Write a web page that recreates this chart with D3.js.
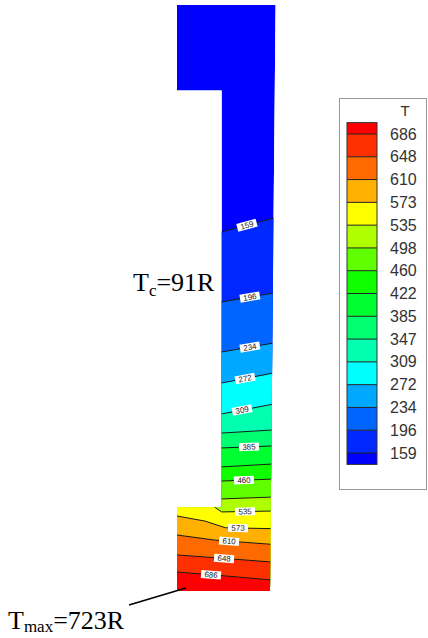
<!DOCTYPE html>
<html>
<head>
<meta charset="utf-8">
<script src="https://cdn.jsdelivr.net/npm/d3@7"></script>
<style>
  body { margin: 0; background: #fff; }
</style>
</head>
<body>
<div id="chart"></div>
<script>
// contour levels of T (R)
const levels = [159, 196, 234, 272, 309, 347, 385, 422, 460, 498, 535, 573, 610, 648, 686];

// band colours, from "below 159" up to "above 686"
const bandColors = [
  "#0000ff", "#0028ff", "#0064ff", "#00a8ff", "#00ffff", "#00ffb0", "#00ff70", "#00ff30",
  "#10ff00", "#60ff00", "#b0ff00", "#ffff00", "#ffb000", "#ff6a00", "#ff3000", "#ff0000"
];

// outline of the part, in mm (y up)
const outline = [[0, 0], [50, 0], [53, 315], [0, 315], [0, 269], [24, 269], [24, 45], [0, 45]];

// isotherms, one polyline per level (mm)
const isotherms = [
  [[24, 193], [52, 200.5]],
  [[24, 155.4], [52, 160.2]],
  [[24, 128.5], [52, 133.3]],
  [[24, 111.8], [52, 117.2]],
  [[24, 95.2], [52, 100.5]],
  [[24, 84.9], [52, 86.6]],
  [[24, 76.9], [52, 78]],
  [[24, 66.7], [52, 68.3]],
  [[24, 59.1], [52, 60.2]],
  [[24, 49.5], [52, 50.5]],
  [[19, 46], [24, 42.5], [52, 43]],
  [[0, 40.3], [15, 37.6], [26, 34], [52, 33.5]],
  [[0, 30.1], [20, 27.4], [52, 25]],
  [[0, 19.4], [23, 17.7], [52, 15.5]],
  [[0, 10.2], [26, 8.1], [52, 5.8]]
];

// where each isotherm carries its value label (mm along x), null = no label
const labelX = [37.6, 39.2, 39.2, 36.6, 35, null, 38.7, null, 36, null, 36.6, 32.8, 28, 25.3, 18.3];

const width = 428, height = 638;

const svg = d3.select("#chart")
  .append("svg")
  .attr("width", width)
  .attr("height", height);

// part coordinates -> page
const x = d3.scaleLinear().domain([0, 50]).range([177, 270]);
const y = d3.scaleLinear().domain([0, 315]).range([591, 5]);

const toPath = d3.line().x(d => x(d[0])).y(d => y(d[1]));

svg.append("clipPath")
  .attr("id", "part")
  .append("path")
  .attr("d", toPath(outline) + "Z");

const field = svg.append("g").attr("clip-path", "url(#part)");

// base colour (coldest band), then every band painted from its isotherm downwards
field.append("path")
  .attr("d", toPath(outline) + "Z")
  .attr("fill", bandColors[0]);

// lines run past both edges of the part
const extend = pts => [[-10, pts[0][1]], ...pts, [70, pts[pts.length - 1][1]]];

const below = d3.area()
  .x(d => x(d[0]))
  .y0(y(-10))
  .y1(d => y(d[1]));

isotherms.forEach((pts, i) => {
  field.append("path")
    .attr("d", below(extend(pts)))
    .attr("fill", bandColors[i + 1]);
});

isotherms.forEach(pts => {
  field.append("path")
    .attr("d", toPath(extend(pts)))
    .attr("fill", "none")
    .attr("stroke", "#1a1a1a")
    .attr("stroke-width", 1);
});

// value labels on the isotherms
function pointOn(pts, px) {
  const p = extend(pts);
  for (let k = 0; k < p.length - 1; k++) {
    if (px >= p[k][0] && px <= p[k + 1][0]) {
      const t = (px - p[k][0]) / (p[k + 1][0] - p[k][0]);
      const sx = x(p[k + 1][0]) - x(p[k][0]);
      const sy = y(p[k + 1][1]) - y(p[k][1]);
      return {
        px: x(px),
        py: y(p[k][1] + t * (p[k + 1][1] - p[k][1])),
        angle: Math.atan2(sy, sx) * 180 / Math.PI
      };
    }
  }
}

levels.forEach((lv, i) => {
  if (labelX[i] == null) return;
  const p = pointOn(isotherms[i], labelX[i]);
  const g = field.append("g")
    .attr("transform", `translate(${p.px},${p.py}) rotate(${p.angle})`);
  g.append("rect")
    .attr("x", -10).attr("y", -4)
    .attr("width", 20).attr("height", 8)
    .attr("fill", "#fff");
  g.append("text")
    .attr("text-anchor", "middle")
    .attr("dy", "0.35em")
    .style("font-family", "Liberation Sans, Arial, sans-serif")
    .style("font-size", "8px")
    .style("fill", "#222")
    .text(lv);
});

// annotations
const serif = "Liberation Serif, Times New Roman, serif";

const tc = svg.append("text")
  .attr("x", 133).attr("y", 291)
  .style("font-family", serif)
  .style("font-size", "26px")
  .style("fill", "#000");
tc.append("tspan").text("T");
tc.append("tspan").attr("dy", 5).style("font-size", "17px").text("c");
tc.append("tspan").attr("dy", -5).text("=91R");

const tm = svg.append("text")
  .attr("x", 8).attr("y", 629)
  .style("font-family", serif)
  .style("font-size", "26px")
  .style("fill", "#000");
tm.append("tspan").text("T");
tm.append("tspan").attr("dy", 3).style("font-size", "17px").text("max");
tm.append("tspan").attr("dy", -3).text("=723R");

svg.append("line")
  .attr("x1", 129).attr("y1", 605)
  .attr("x2", x(4.8)).attr("y2", y(1.6))
  .attr("stroke", "#000")
  .attr("stroke-width", 1.5);

// legend
const legend = svg.append("g");

legend.append("rect")
  .attr("x", 339.5).attr("y", 98.5)
  .attr("width", 87).attr("height", 391)
  .attr("fill", "#fff")
  .attr("stroke", "#999");

legend.append("text")
  .attr("x", 405).attr("y", 116)
  .attr("text-anchor", "middle")
  .style("font-family", "Liberation Sans, Arial, sans-serif")
  .style("font-size", "15px")
  .style("fill", "#333")
  .text("T");

const ly = d3.scalePoint()
  .domain(levels.slice().reverse())
  .range([134, 453]);
const half = ly.step() / 2;

bandColors.forEach((c, k) => {
  const top = k < levels.length ? ly(levels[k]) : ly(levels[levels.length - 1]) - half;
  const bot = k > 0 ? ly(levels[k - 1]) : ly(levels[0]) + half;
  legend.append("rect")
    .attr("x", 347).attr("y", top)
    .attr("width", 30).attr("height", bot - top)
    .attr("fill", c);
});

levels.forEach(lv => {
  legend.append("line")
    .attr("x1", 347).attr("x2", 377)
    .attr("y1", ly(lv)).attr("y2", ly(lv))
    .attr("stroke", "#222")
    .attr("stroke-width", 1);
  legend.append("text")
    .attr("x", 390).attr("y", ly(lv))
    .attr("dy", "0.35em")
    .style("font-family", "Liberation Sans, Arial, sans-serif")
    .style("font-size", "16px")
    .style("fill", "#333")
    .text(lv);
});

legend.append("rect")
  .attr("x", 347).attr("y", ly(686) - half)
  .attr("width", 30).attr("height", ly(159) - ly(686) + 2 * half)
  .attr("fill", "none")
  .attr("stroke", "#333");
</script>
</body>
</html>
